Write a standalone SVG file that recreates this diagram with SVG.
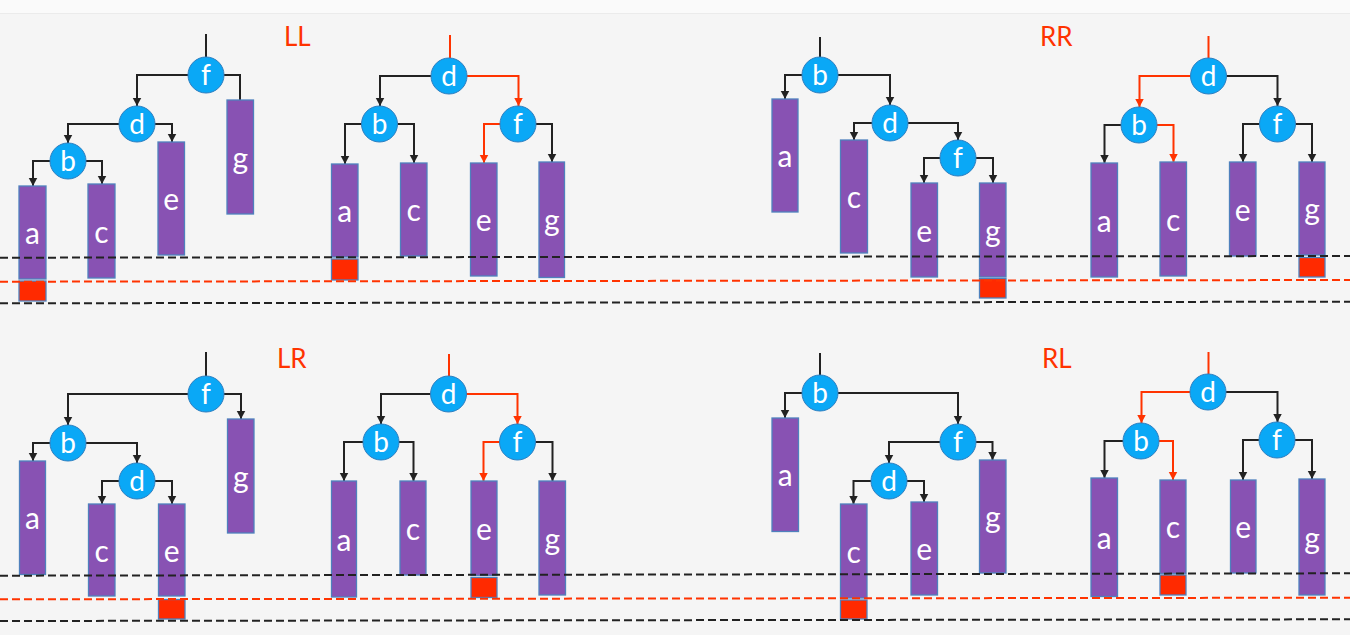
<svg xmlns="http://www.w3.org/2000/svg" width="1350" height="635" viewBox="0 0 1350 635">
<defs>
<marker id="ab" markerUnits="userSpaceOnUse" markerWidth="10" markerHeight="10" refX="8.5" refY="5" orient="auto"><path d="M0,0.5 L8.5,5 L0,9.5 z" fill="#222"/></marker>
<marker id="ar" markerUnits="userSpaceOnUse" markerWidth="10" markerHeight="10" refX="8.5" refY="5" orient="auto"><path d="M0,0.5 L8.5,5 L0,9.5 z" fill="#ff3300"/></marker>
<style>
.c{fill:#0aa8f6;stroke:#2f7fc0;stroke-width:1}
.r{fill:#8852b3;stroke:#4f81bd;stroke-width:1.3}
.s{fill:#ff2a00;stroke:#4f81bd;stroke-width:1.3}
.t{font-family:Lato,"Liberation Sans",sans-serif;font-size:28px;fill:#fff;text-anchor:middle}
.u{font-family:Lato,"Liberation Sans",sans-serif;font-size:30px;fill:#fff;text-anchor:middle}
.h{font-family:Lato,"Liberation Sans",sans-serif;font-size:26px;fill:#ff3300}
.k{fill:none;stroke:#222;stroke-width:2}
.kr{fill:none;stroke:#ff3300;stroke-width:2}
.ka{marker-end:url(#ab)}
.kra{marker-end:url(#ar)}
.db{stroke:#222;stroke-width:2;stroke-dasharray:8 4;fill:none}
.dr{stroke:#ff3300;stroke-width:2;stroke-dasharray:8 4;fill:none}
</style>
</defs>
<rect x="0" y="0" width="1350" height="635" fill="#f5f5f5"/>
<rect x="0" y="0" width="1350" height="13" fill="#fafafa"/>
<line x1="0" y1="13.5" x2="1350" y2="13.5" stroke="#ebebeb" stroke-width="1"/>

<g id="titles">
<text class="h" x="284" y="46">LL</text>
<text class="h" x="1040" y="46">RR</text>
<text class="h" x="277" y="368">LR</text>
<text class="h" x="1042" y="368">RL</text>
</g>

<g id="connectors">
<path class="k" d="M206,34 V57"/>
<path class="k ka" d="M188,75 H137 V106"/>
<path class="k" d="M224,75 H240 V100"/>
<path class="k ka" d="M119,124 H68 V143"/>
<path class="k ka" d="M155,124 H172 V142"/>
<path class="k ka" d="M50,161 H33 V186"/>
<path class="k ka" d="M86,161 H102 V184"/>
<path class="kr" d="M450,35 V58"/>
<path class="k ka" d="M431,76 H380 V106"/>
<path class="kr kra" d="M467,76 H518.5 V106"/>
<path class="k ka" d="M361.5,124 H345 V164"/>
<path class="k ka" d="M397.5,124 H414 V163"/>
<path class="kr kra" d="M500,124 H484 V163"/>
<path class="k ka" d="M536,124 H552 V162"/>
<path class="k" d="M820,37 V57"/>
<path class="k ka" d="M802,75 H785 V99"/>
<path class="k ka" d="M838,75 H890 V105"/>
<path class="k ka" d="M872,123 H854 V140"/>
<path class="k ka" d="M908,123 H958 V140"/>
<path class="k ka" d="M940,158 H924 V183"/>
<path class="k ka" d="M976,158 H993 V183"/>
<path class="kr" d="M1208.5,36 V58"/>
<path class="kr kra" d="M1190.5,76 H1139.5 V107"/>
<path class="k ka" d="M1226.5,76 H1277.5 V106"/>
<path class="k ka" d="M1121,125 H1104.5 V163"/>
<path class="kr kra" d="M1157,125 H1173.5 V162"/>
<path class="k ka" d="M1259.5,124 H1243 V162"/>
<path class="k ka" d="M1295.5,124 H1312 V162"/>
<path class="k" d="M206,352 V376"/>
<path class="k ka" d="M188,394 H68 V425"/>
<path class="k ka" d="M224,394 H241 V419"/>
<path class="k ka" d="M50,443 H33 V461"/>
<path class="k ka" d="M86,443 H137 V463"/>
<path class="k ka" d="M119,481 H102 V504"/>
<path class="k ka" d="M155,481 H172 V504"/>
<path class="kr" d="M449,354 V376"/>
<path class="k ka" d="M430.5,394 H381 V424"/>
<path class="kr kra" d="M466.5,394 H517.5 V424"/>
<path class="k ka" d="M363,442 H344 V481"/>
<path class="k ka" d="M399,442 H413.5 V481"/>
<path class="kr kra" d="M499.5,442 H483.5 V481"/>
<path class="k ka" d="M535.5,442 H552.5 V481"/>
<path class="k" d="M820,353 V375"/>
<path class="k ka" d="M802,393 H785 V418"/>
<path class="k ka" d="M838,393 H958 V424"/>
<path class="k ka" d="M940,442 H889 V463"/>
<path class="k ka" d="M976,442 H992.5 V460"/>
<path class="k ka" d="M871,481 H853.5 V504"/>
<path class="k ka" d="M907,481 H924 V502"/>
<path class="kr" d="M1208.5,352 V374"/>
<path class="kr kra" d="M1190,392 H1141.5 V423"/>
<path class="k ka" d="M1226,392 H1277.5 V422"/>
<path class="k ka" d="M1123,441 H1104.5 V478"/>
<path class="kr kra" d="M1159,441 H1173 V480"/>
<path class="k ka" d="M1259,440 H1243 V480"/>
<path class="k ka" d="M1295,440 H1312 V479"/>
</g>

<g id="ll-f"><circle class="c" cx="206" cy="75" r="18"/><text class="t" x="206" y="85">f</text></g>
<g id="ll-d"><circle class="c" cx="137" cy="124" r="18"/><text class="t" x="137" y="134">d</text></g>
<g id="ll-b"><circle class="c" cx="68" cy="161" r="18"/><text class="t" x="68" y="171">b</text></g>
<g id="ll-a"><rect class="r" x="19" y="186" width="27" height="93"/><text class="u" x="32.5" y="244">a</text></g>
<g id="ll-a-extra"><rect class="s" x="19" y="281" width="27" height="20"/></g>
<g id="ll-c"><rect class="r" x="88" y="184" width="27" height="94"/><text class="u" x="101.5" y="242.5">c</text></g>
<g id="ll-e"><rect class="r" x="158" y="142" width="26.5" height="113"/><text class="u" x="171.25" y="210">e</text></g>
<g id="ll-g"><rect class="r" x="227" y="100" width="26.5" height="114"/><text class="u" x="240.25" y="168.5">g</text></g>

<g id="ll2-d"><circle class="c" cx="449" cy="76" r="18"/><text class="t" x="449" y="86">d</text></g>
<g id="ll2-b"><circle class="c" cx="379.5" cy="124" r="18"/><text class="t" x="379.5" y="134">b</text></g>
<g id="ll2-f"><circle class="c" cx="518" cy="124" r="18"/><text class="t" x="518" y="134">f</text></g>
<g id="ll2-a"><rect class="r" x="331.5" y="164" width="26.5" height="93"/><text class="u" x="344.75" y="222">a</text></g>
<g id="ll2-a-extra"><rect class="s" x="331.5" y="259" width="26.5" height="21"/></g>
<g id="ll2-c"><rect class="r" x="400.5" y="163" width="26.5" height="93"/><text class="u" x="413.75" y="221">c</text></g>
<g id="ll2-e"><rect class="r" x="470.5" y="163" width="26.5" height="113"/><text class="u" x="483.75" y="231">e</text></g>
<g id="ll2-g"><rect class="r" x="539" y="162" width="25.5" height="115.5"/><text class="u" x="551.75" y="231.25">g</text></g>

<g id="rr-b"><circle class="c" cx="820" cy="75" r="18"/><text class="t" x="820" y="85">b</text></g>
<g id="rr-d"><circle class="c" cx="890" cy="123" r="18"/><text class="t" x="890" y="133">d</text></g>
<g id="rr-f"><circle class="c" cx="958" cy="158" r="18"/><text class="t" x="958" y="168">f</text></g>
<g id="rr-a"><rect class="r" x="772" y="99" width="26" height="113"/><text class="u" x="785" y="167">a</text></g>
<g id="rr-c"><rect class="r" x="840.5" y="140" width="27" height="113"/><text class="u" x="854" y="208">c</text></g>
<g id="rr-e"><rect class="r" x="911" y="183" width="26.5" height="94"/><text class="u" x="924.25" y="241.5">e</text></g>
<g id="rr-g"><rect class="r" x="979.5" y="183" width="26.5" height="94"/><text class="u" x="992.75" y="241.5">g</text></g>
<g id="rr-g-extra"><rect class="s" x="979.5" y="278.5" width="26.5" height="19.5"/></g>

<g id="rr2-d"><circle class="c" cx="1208.5" cy="76" r="18"/><text class="t" x="1208.5" y="86">d</text></g>
<g id="rr2-b"><circle class="c" cx="1139" cy="125" r="18"/><text class="t" x="1139" y="135">b</text></g>
<g id="rr2-f"><circle class="c" cx="1277.5" cy="124" r="18"/><text class="t" x="1277.5" y="134">f</text></g>
<g id="rr2-a"><rect class="r" x="1091" y="163" width="26.5" height="114"/><text class="u" x="1104.25" y="231.5">a</text></g>
<g id="rr2-c"><rect class="r" x="1160" y="162" width="26.5" height="114"/><text class="u" x="1173.25" y="230.5">c</text></g>
<g id="rr2-e"><rect class="r" x="1229.5" y="162" width="26.5" height="94"/><text class="u" x="1242.75" y="220.5">e</text></g>
<g id="rr2-g"><rect class="r" x="1299" y="162" width="26" height="93"/><text class="u" x="1312" y="220">g</text></g>
<g id="rr2-g-extra"><rect class="s" x="1299" y="257.5" width="26" height="19.5"/></g>

<g id="lr-f"><circle class="c" cx="206" cy="394" r="18"/><text class="t" x="206" y="404">f</text></g>
<g id="lr-b"><circle class="c" cx="68" cy="443" r="18"/><text class="t" x="68" y="453">b</text></g>
<g id="lr-d"><circle class="c" cx="137" cy="481" r="18"/><text class="t" x="137" y="491">d</text></g>
<g id="lr-a"><rect class="r" x="19.5" y="461" width="26" height="113.5"/><text class="u" x="32.5" y="529.25">a</text></g>
<g id="lr-c"><rect class="r" x="88.5" y="504" width="26.5" height="92"/><text class="u" x="101.75" y="561.5">c</text></g>
<g id="lr-e"><rect class="r" x="158.5" y="504" width="26.5" height="92"/><text class="u" x="171.75" y="561.5">e</text></g>
<g id="lr-e-extra"><rect class="s" x="158.5" y="599.5" width="26.5" height="19.5"/></g>
<g id="lr-g"><rect class="r" x="227.5" y="419" width="26.5" height="114"/><text class="u" x="240.75" y="487.5">g</text></g>

<g id="lr2-d"><circle class="c" cx="448.5" cy="394" r="18"/><text class="t" x="448.5" y="404">d</text></g>
<g id="lr2-b"><circle class="c" cx="381" cy="442" r="18"/><text class="t" x="381" y="452">b</text></g>
<g id="lr2-f"><circle class="c" cx="517.5" cy="442" r="18"/><text class="t" x="517.5" y="452">f</text></g>
<g id="lr2-a"><rect class="r" x="331.5" y="481" width="25" height="116"/><text class="u" x="344" y="550.5">a</text></g>
<g id="lr2-c"><rect class="r" x="400" y="481" width="26" height="94"/><text class="u" x="413" y="539.5">c</text></g>
<g id="lr2-e"><rect class="r" x="471" y="481" width="26" height="94.5"/><text class="u" x="484" y="539.5">e</text></g>
<g id="lr2-e-extra"><rect class="s" x="471" y="577.5" width="26" height="20"/></g>
<g id="lr2-g"><rect class="r" x="539" y="481" width="26.5" height="114"/><text class="u" x="552.25" y="549.5">g</text></g>

<g id="rl-b"><circle class="c" cx="820" cy="393" r="18"/><text class="t" x="820" y="403">b</text></g>
<g id="rl-f"><circle class="c" cx="958" cy="442" r="18"/><text class="t" x="958" y="452">f</text></g>
<g id="rl-d"><circle class="c" cx="889" cy="481" r="18"/><text class="t" x="889" y="491">d</text></g>
<g id="rl-a"><rect class="r" x="772" y="418" width="26.5" height="113.5"/><text class="u" x="785.25" y="486.25">a</text></g>
<g id="rl-c"><rect class="r" x="840.5" y="504" width="26.5" height="94"/><text class="u" x="853.75" y="562.5">c</text></g>
<g id="rl-c-extra"><rect class="s" x="840.5" y="600" width="26.5" height="19"/></g>
<g id="rl-e"><rect class="r" x="911" y="502" width="26.5" height="93"/><text class="u" x="924.25" y="560">e</text></g>
<g id="rl-g"><rect class="r" x="979.5" y="460" width="26.5" height="113"/><text class="u" x="992.75" y="528">g</text></g>

<g id="rl2-d"><circle class="c" cx="1208" cy="392" r="18"/><text class="t" x="1208" y="402">d</text></g>
<g id="rl2-b"><circle class="c" cx="1141" cy="441" r="18"/><text class="t" x="1141" y="451">b</text></g>
<g id="rl2-f"><circle class="c" cx="1277" cy="440" r="18"/><text class="t" x="1277" y="450">f</text></g>
<g id="rl2-a"><rect class="r" x="1091" y="478" width="26.5" height="118.5"/><text class="u" x="1104.25" y="548.75">a</text></g>
<g id="rl2-c"><rect class="r" x="1160" y="480" width="26" height="93.5"/><text class="u" x="1173" y="538.25">c</text></g>
<g id="rl2-c-extra"><rect class="s" x="1160" y="575" width="26" height="20"/></g>
<g id="rl2-e"><rect class="r" x="1230.5" y="480" width="25.5" height="93"/><text class="u" x="1243.25" y="538">e</text></g>
<g id="rl2-g"><rect class="r" x="1299" y="479" width="26" height="116"/><text class="u" x="1312" y="548.5">g</text></g>

<g id="levels">
<line class="db" x1="0" y1="257.7" x2="1350" y2="256"/>
<line class="dr" x1="0" y1="281.7" x2="1350" y2="280"/>
<line class="db" x1="0" y1="303.3" x2="1350" y2="301.7"/>
<line class="db" x1="0" y1="575.7" x2="1350" y2="573.3"/>
<line class="dr" x1="0" y1="599.3" x2="1350" y2="597.7"/>
<line class="db" x1="0" y1="621" x2="1350" y2="619.3"/>
</g>
</svg>
